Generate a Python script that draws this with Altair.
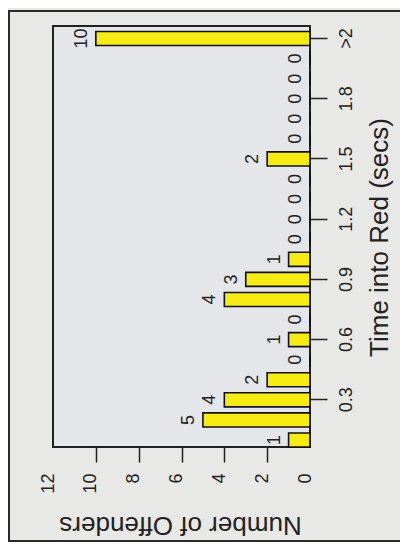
import altair as alt
import pandas as pd

times = ["0.1", "0.2", "0.3", "0.4", "0.5", "0.6", "0.7", "0.8", "0.9", "1.0",
         "1.1", "1.2", "1.3", "1.4", "1.5", "1.6", "1.7", "1.8", "1.9", "2.0", ">2"]
counts = [1, 5, 4, 2, 0, 1, 0, 4, 3, 1, 0, 0, 0, 0, 2, 0, 0, 0, 0, 0, 10]
time_ticks = ["0.3", "0.6", "0.9", "1.2", "1.5", "1.8", ">2"]
count_ticks = [0, 2, 4, 6, 8, 10, 12]

df = pd.DataFrame({"time": times, "count": counts})

FONT = "Liberation Sans"
INK = "#222222"
W, H = 257, 421

y_enc = alt.Y(
    "time:N",
    scale=alt.Scale(domain=list(reversed(times)), paddingInner=0.3,
                    paddingOuter=0.136, align=1),
    axis=alt.Axis(
        orient="right", values=time_ticks, tickSize=17, tickWidth=1.5,
        tickColor=INK, labelAngle=270, labelAlign="center",
        labelBaseline="top", labelPadding=10, labelFontSize=18,
        labelFont=FONT, labelColor=INK, labelOverlap=False,
        domain=False, grid=False,
        title="Time into Red (secs)", titleAngle=270, titleX=69, titleY=211,
        titleAlign="center", titleBaseline="middle", titleFontSize=26,
        titleFont=FONT, titleFontWeight="normal", titleColor=INK,
    ),
)

x_enc = alt.X(
    "count:Q",
    scale=alt.Scale(domain=[0, 12], reverse=True, nice=False, zero=True),
    axis=alt.Axis(
        orient="bottom", values=count_ticks, tickSize=15, tickWidth=1.5,
        tickColor=INK,
        tickOpacity={"condition": {"test": "datum.value == 0 || datum.value == 12",
                                   "value": 0}, "value": 1},
        labelAngle=270, labelAlign="right", labelBaseline="alphabetic",
        labelPadding=11, labelFontSize=18, labelFont=FONT, labelColor=INK,
        labelFlush=False, labelOverlap=False, domain=False, grid=False,
        title="Number of Offenders", titleAngle=180, titleX=127, titleY=77,
        titleAlign="center", titleBaseline="middle", titleFontSize=26,
        titleFont=FONT, titleFontWeight="normal", titleColor=INK,
    ),
)

base = alt.Chart(df).encode(x=x_enc, y=y_enc)

bars = base.mark_bar(fill="#F7EB14", stroke="#111111", strokeWidth=1.6)
labels = base.mark_text(angle=270, align="center", baseline="alphabetic",
                        dy=-9, fontSize=18, font=FONT, color=INK).encode(
    text="count:Q")

frame = alt.Chart(pd.DataFrame({"a": [0]})).mark_rect(
    fillOpacity=0, stroke="#2a2a2a", strokeWidth=2).encode(
    x=alt.value(-44), x2=alt.value(420), y=alt.value(-15), y2=alt.value(515))

chart = alt.layer(frame, bars, labels).properties(
    width=W, height=H,
    padding={"left": 45, "top": 18, "right": 90, "bottom": 95},
    autosize=alt.AutoSizeParams(type="none"),
    background="#E8E8E6",
).configure_view(stroke=INK, strokeWidth=2, fill="#E4E6EA")

chart.save("out.html", embed_options={"renderer": "svg", "actions": False})
